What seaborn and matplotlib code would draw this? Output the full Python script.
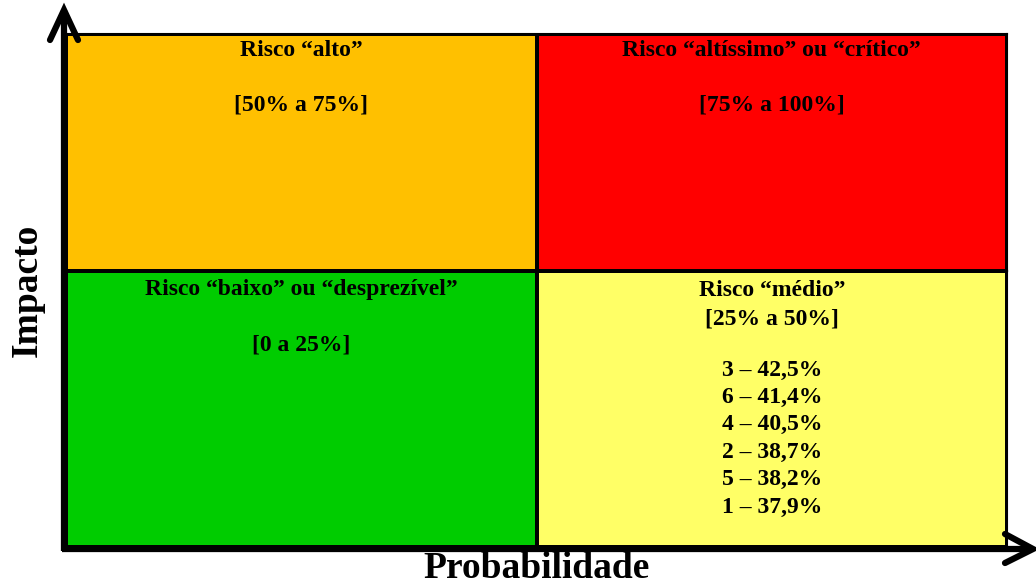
import matplotlib.pyplot as plt
import seaborn as sns
import pandas as pd
import numpy as np
from matplotlib.colors import ListedColormap

# quadrant levels: 0 baixo, 1 medio, 2 alto, 3 critico
cols = ["baixa prob.", "alta prob."]
levels_top = [2, 3]
levels_bottom = [0, 1]
quad_colors = ["#00CC00", "#FFFF66", "#FFC000", "#FF0000"]

titles_top = ["Risco \u201calto\u201d", "Risco \u201calt\u00edssimo\u201d ou \u201ccr\u00edtico\u201d"]
ranges_top = ["[50% a 75%]", "[75% a 100%]"]
titles_bottom = ["Risco \u201cbaixo\u201d ou \u201cdesprez\u00edvel\u201d", "Risco \u201cm\u00e9dio\u201d"]
ranges_bottom = ["[0 a 25%]", "[25% a 50%]"]
item_ids = ["3", "6", "4", "2", "5", "1"]
item_vals = ["42,5%", "41,4%", "40,5%", "38,7%", "38,2%", "37,9%"]

sns.set_style("white")
plt.rcParams['font.family'] = ['Liberation Serif', 'DejaVu Serif']
plt.rcParams['text.color'] = 'black'

W, H = 1036, 585
fig = plt.figure(figsize=(W / 100, H / 100), dpi=100)
left, right, top, mid, bottom = 66, 1007, 34, 271, 547
ax_top = fig.add_axes([left / W, 1 - mid / H, (right - left) / W, (mid - top) / H])
ax_bot = fig.add_axes([left / W, 1 - bottom / H, (right - left) / W, (bottom - mid) / H])

cmap = ListedColormap(quad_colors)
for ax, lev in [(ax_top, levels_top), (ax_bot, levels_bottom)]:
    df = pd.DataFrame([lev], columns=cols)
    sns.heatmap(df, ax=ax, cmap=cmap, vmin=-0.5, vmax=3.5, cbar=False,
                linewidths=1.5, linecolor="black", xticklabels=False,
                yticklabels=False)
    for s in ax.spines.values():
        s.set_visible(True)
        s.set_linewidth(1.5)
        s.set_color("black")

fs = 17
kw = dict(ha="center", va="center", fontsize=fs, fontweight="bold", color="black")


def put(ax, col, px, row_h, txt):
    # px: pixel offset from the top of the row
    ax.text(col + 0.5, px / row_h, txt, **kw)


h_top = mid - top
h_bot = bottom - mid
for c in range(2):
    put(ax_top, c, 16, h_top, titles_top[c])
    put(ax_top, c, 71, h_top, ranges_top[c])
put(ax_bot, 0, 19, h_bot, titles_bottom[0])
put(ax_bot, 0, 74, h_bot, ranges_bottom[0])
put(ax_bot, 1, 19, h_bot, titles_bottom[1])
put(ax_bot, 1, 48, h_bot, ranges_bottom[1])
for i, (k, v) in enumerate(zip(item_ids, item_vals)):
    put(ax_bot, 1, 99 + i * 27.4, h_bot, f"{k} \u2013 {v}")

# axis arrows
lw = 4.5
fig.add_artist(plt.Line2D([64 / W, 64 / W], [1 - 551 / H, 1 - 10 / H],
                          lw=lw, color="black", solid_capstyle="butt"))
fig.add_artist(plt.Line2D([62 / W, 1032 / W], [1 - 549 / H, 1 - 549 / H],
                          lw=lw, color="black", solid_capstyle="butt"))
fig.add_artist(plt.Line2D([50 / W, 64 / W, 78 / W], [1 - 40 / H, 1 - 10 / H, 1 - 40 / H],
                          lw=lw, color="black", solid_capstyle="round",
                          solid_joinstyle="miter"))
fig.add_artist(plt.Line2D([1005 / W, 1033 / W, 1005 / W], [1 - 534 / H, 1 - 549 / H, 1 - 563 / H],
                          lw=lw, color="black", solid_capstyle="round",
                          solid_joinstyle="miter"))

fig.text(537 / W, 1 - 569 / H, "Probabilidade", ha="center", va="center",
         fontsize=27, fontweight="bold", color="black")
fig.text(27 / W, 1 - 290 / H, "Impacto", ha="center", va="center",
         fontsize=27, fontweight="bold", rotation=90, color="black")

fig.savefig("out.png", dpi=100)
